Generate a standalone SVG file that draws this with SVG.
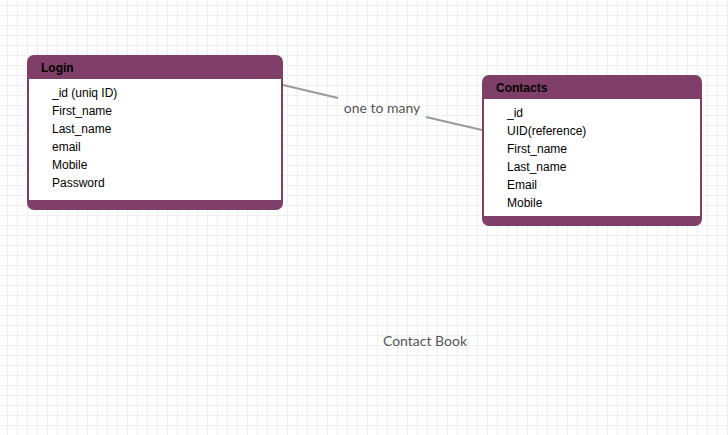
<svg xmlns="http://www.w3.org/2000/svg" width="728" height="435" viewBox="0 0 728 435">
<defs>
<pattern id="grid" x="7" y="5" width="10" height="10" patternUnits="userSpaceOnUse">
<path d="M0.5 0 V10 M0 0.5 H10" fill="none" stroke="#efefef" stroke-width="1"/>
</pattern>
</defs>
<style>
.frame{fill:#803f69;}
.body{fill:#ffffff;}
.title{font-family:"Liberation Sans",Arial,sans-serif;font-size:12px;font-weight:bold;fill:#000;}
.field{font-family:"Liberation Sans",Arial,sans-serif;font-size:12px;fill:#000;}
.conn{stroke:#9a9a9a;stroke-width:2;fill:none;}
.lbl{font-family:Lato,"Open Sans",sans-serif;font-size:14px;fill:#555;}
</style>
<rect width="728" height="435" fill="#ffffff"/>
<rect width="728" height="435" fill="url(#grid)"/>
<g id="connectors">
<line class="conn" x1="283" y1="85" x2="338" y2="98"/>
<line class="conn" x1="426" y1="117" x2="482" y2="130"/>
<text class="lbl" x="382" y="113" text-anchor="middle">one to many</text>
</g>
<g id="login">
<rect class="frame" x="27" y="55" width="256" height="155" rx="7"/>
<rect class="body" x="29" y="79" width="252" height="121"/>
<text class="title" x="41" y="72">Login</text>
<text class="field" x="52" y="97">_id (uniq ID)</text>
<text class="field" x="52" y="115">First_name</text>
<text class="field" x="52" y="133">Last_name</text>
<text class="field" x="52" y="151">email</text>
<text class="field" x="52" y="169">Mobile</text>
<text class="field" x="52" y="187">Password</text>
</g>
<g id="contacts">
<rect class="frame" x="482" y="75" width="220" height="151" rx="7"/>
<rect class="body" x="484" y="99" width="216" height="117"/>
<text class="title" x="496" y="92">Contacts</text>
<text class="field" x="507" y="117">_id</text>
<text class="field" x="507" y="135">UID(reference)</text>
<text class="field" x="507" y="153">First_name</text>
<text class="field" x="507" y="171">Last_name</text>
<text class="field" x="507" y="189">Email</text>
<text class="field" x="507" y="207">Mobile</text>
</g>
<g id="caption">
<text class="lbl" x="425" y="346" text-anchor="middle">Contact Book</text>
</g>
</svg>
